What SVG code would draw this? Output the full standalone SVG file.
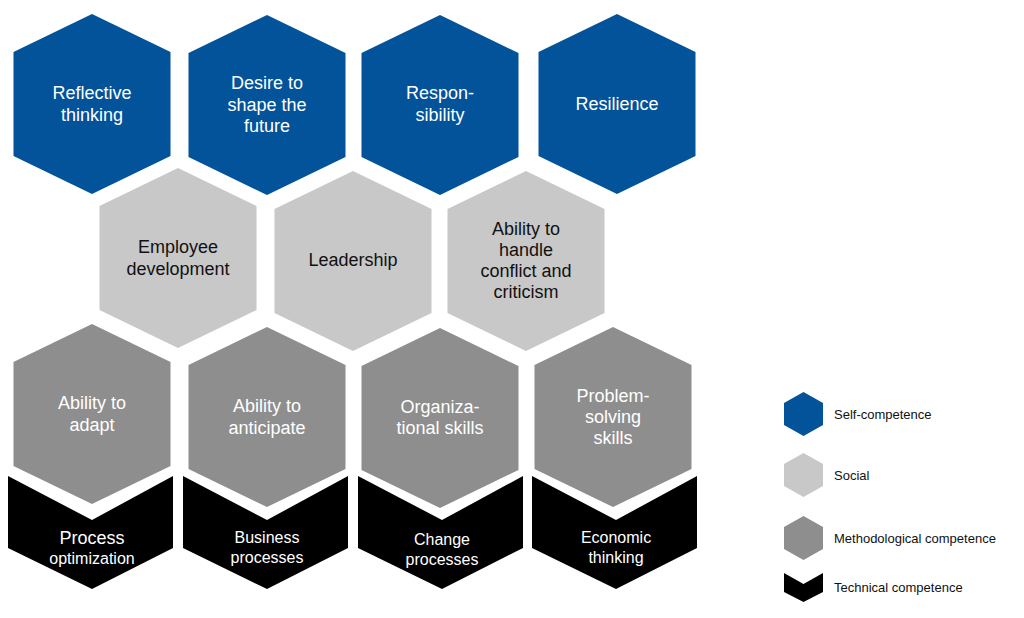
<svg xmlns="http://www.w3.org/2000/svg" width="1024" height="618" viewBox="0 0 1024 618">
<style>
.b{fill:#02539a}.l{fill:#c8c8c8}.m{fill:#8e8e8e}.k{fill:#000}
text{font-family:"Liberation Sans",Arial,sans-serif;font-size:18px;text-anchor:middle}
.w{fill:#fff}.d{fill:#111}
.lg{font-size:13px;text-anchor:start;fill:#111}
</style>
<defs>
<polygon id="hx" points="0,-90 78.5,-52 78.5,52 0,90 -78.5,52 -78.5,-52"/>
<polygon id="cv" points="-84,-44 0,0 81,-44 81,28 0,69 -84,28"/>
<polygon id="hs" points="0,-22 19.5,-11 19.5,11 0,22 -19.5,11 -19.5,-11"/>
</defs>
<g id="reflective"><use href="#hx" class="b" x="92" y="104"/><text class="w" x="92" y="99">Reflective</text><text class="w" x="92" y="121">thinking</text></g>
<g id="desire"><use href="#hx" class="b" x="267" y="105"/><text class="w" x="267" y="89">Desire to</text><text class="w" x="267" y="111">shape the</text><text class="w" x="267" y="132">future</text></g>
<g id="responsibility"><use href="#hx" class="b" x="440" y="105"/><text class="w" x="440" y="99">Respon-</text><text class="w" x="440" y="121">sibility</text></g>
<g id="resilience"><use href="#hx" class="b" x="617" y="104"/><text class="w" x="617" y="110">Resilience</text></g>
<g id="employee"><use href="#hx" class="l" x="178" y="258"/><text class="d" x="178" y="253">Employee</text><text class="d" x="178" y="275">development</text></g>
<g id="leadership"><use href="#hx" class="l" x="353" y="261"/><text class="d" x="353" y="266">Leadership</text></g>
<g id="conflict"><use href="#hx" class="l" x="526" y="261"/><text class="d" x="526" y="235">Ability to</text><text class="d" x="526" y="256">handle</text><text class="d" x="526" y="277">conflict and</text><text class="d" x="526" y="298">criticism</text></g>
<g id="adapt"><use href="#hx" class="m" x="92" y="414"/><text class="w" x="92" y="409">Ability to</text><text class="w" x="92" y="431">adapt</text></g>
<g id="anticipate"><use href="#hx" class="m" x="267" y="417"/><text class="w" x="267" y="412">Ability to</text><text class="w" x="267" y="434">anticipate</text></g>
<g id="organizational"><use href="#hx" class="m" x="440" y="418"/><text class="w" x="440" y="413">Organiza-</text><text class="w" x="440" y="434">tional skills</text></g>
<g id="problem"><use href="#hx" class="m" x="613" y="417"/><text class="w" x="613" y="402">Problem-</text><text class="w" x="613" y="423">solving</text><text class="w" x="613" y="444">skills</text></g>
<g id="process"><use href="#cv" class="k" x="92" y="520"/><text class="w" x="92" y="544" font-size="16">Process</text><text class="w" x="92" y="564" style="font-size:16px">optimization</text></g>
<g id="business"><use href="#cv" class="k" x="267" y="520"/><text class="w" x="267" y="543" style="font-size:16px">Business</text><text class="w" x="267" y="563" style="font-size:16px">processes</text></g>
<g id="change"><use href="#cv" class="k" x="442" y="520"/><text class="w" x="442" y="545" style="font-size:16px">Change</text><text class="w" x="442" y="565" style="font-size:16px">processes</text></g>
<g id="economic"><use href="#cv" class="k" x="616" y="520"/><text class="w" x="616" y="543" style="font-size:16px">Economic</text><text class="w" x="616" y="563" style="font-size:16px">thinking</text></g>
<g id="connectors"></g>
<g id="legend">
<use href="#hs" class="b" x="803.5" y="414"/><text class="lg" x="834" y="419">Self-competence</text>
<use href="#hs" class="l" x="803.5" y="475"/><text class="lg" x="834" y="480">Social</text>
<use href="#hs" class="m" x="803.5" y="538"/><text class="lg" x="834" y="543">Methodological competence</text>
<polygon class="k" points="784,573 803.5,584 823,573 823,592 803.5,602 784,592"/><text class="lg" x="834" y="592">Technical competence</text>
</g>
</svg>
